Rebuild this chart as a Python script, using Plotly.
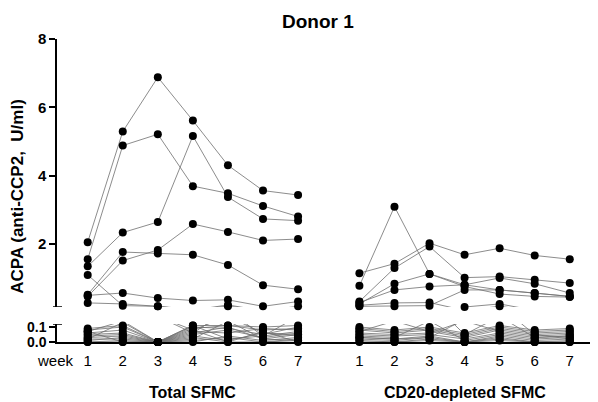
import plotly.graph_objects as go

# ---------------- data ----------------
weeks = [1, 2, 3, 4, 5, 6, 7]
week_labels = ["1", "2", "3", "4", "5", "6", "7"]
group_labels = ["Total SFMC", "CD20-depleted SFMC"]
chart_title = "Donor 1"
y_title = "ACPA (anti-CCP2,  U/ml)"

# Total SFMC, donors/wells with higher ACPA (U/ml), weeks 1-7
total_high = [
    [2.05, 5.29, 6.88, 5.61, 4.30, 3.56, 3.43],
    [1.55, 4.88, 5.21, 3.69, 3.48, 3.11, 2.80],
    [1.34, 2.33, 2.64, 5.16, 3.37, 2.73, 2.68],
    [0.51, 1.76, 1.72, 1.68, 1.38, 0.79, 0.67],
    [0.46, 1.51, 1.82, 2.58, 2.35, 2.10, 2.14],
    [1.09, 0.19, 0.17, 0.06, 0.21, 0.04, 0.17],
    [0.49, 0.56, 0.41, 0.34, 0.36, 0.17, 0.31],
    [0.27, 0.24, 0.17, 0.08, 0.17, 0.06, 0.05],
]
# Total SFMC, low values
total_low = [
    [0.09, 0.11, 0.00, 0.11, 0.11, 0.10, 0.11],
    [0.08, 0.10, 0.00, 0.10, 0.09, 0.05, 0.10],
    [0.07, 0.14, 0.00, 0.09, 0.11, 0.08, 0.09],
    [0.06, 0.08, 0.00, 0.07, 0.06, 0.09, 0.08],
    [0.05, 0.06, 0.00, 0.11, 0.02, 0.04, 0.07],
    [0.04, 0.05, 0.00, 0.05, 0.08, 0.03, 0.06],
    [0.03, 0.04, 0.00, 0.02, 0.14, 0.02, 0.05],
    [0.02, 0.02, 0.00, 0.04, 0.01, 0.06, 0.04],
    [0.01, 0.03, 0.00, 0.00, 0.04, 0.01, 0.03],
    [0.00, 0.01, 0.00, 0.08, 0.00, 0.00, 0.02],
    [0.00, 0.00, 0.00, 0.01, 0.03, 0.00, 0.01],
    [0.07, 0.00, 0.00, 0.03, 0.00, 0.07, 0.00],
    [0.02, 0.13, 0.00, 0.06, 0.10, 0.02, 0.01],
]
# CD20-depleted SFMC, higher values
cd20_high = [
    [1.14, 1.42, 2.02, 1.68, 1.87, 1.66, 1.55],
    [0.77, 3.09, 1.12, 0.80, 0.65, 0.56, 0.46],
    [0.31, 1.29, 1.92, 1.01, 1.04, 0.95, 0.85],
    [0.24, 0.83, 1.12, 0.75, 0.53, 0.46, 0.44],
    [0.28, 0.65, 0.75, 0.80, 1.00, 0.83, 0.56],
    [0.17, 0.17, 0.19, 0.65, 0.65, 0.56, 0.46],
    [0.20, 0.27, 0.28, 0.05, 0.17, 0.03, 0.04],
    [0.03, 0.02, 0.03, 0.15, 0.24, 0.05, 0.02],
]
# CD20-depleted SFMC, low values
cd20_low = [
    [0.10, 0.08, 0.10, 0.06, 0.11, 0.08, 0.09],
    [0.09, 0.07, 0.09, 0.05, 0.10, 0.07, 0.08],
    [0.08, 0.06, 0.08, 0.04, 0.09, 0.06, 0.07],
    [0.07, 0.14, 0.07, 0.03, 0.08, 0.05, 0.06],
    [0.06, 0.05, 0.06, 0.14, 0.07, 0.04, 0.05],
    [0.05, 0.04, 0.05, 0.02, 0.06, 0.03, 0.04],
    [0.04, 0.03, 0.14, 0.01, 0.05, 0.02, 0.03],
    [0.03, 0.02, 0.04, 0.00, 0.04, 0.01, 0.02],
    [0.02, 0.01, 0.03, 0.00, 0.03, 0.00, 0.01],
    [0.01, 0.00, 0.02, 0.00, 0.02, 0.00, 0.00],
    [0.00, 0.00, 0.01, 0.00, 0.01, 0.00, 0.00],
]

# ---------------- layout constants ----------------
GROUP_GAP = 7.75          # x offset of the second group on the category axis
LOW_RANGE = [0, 0.12]     # lower (broken) segment
HIGH_RANGE = [0.15, 8]    # upper segment
FONT = "Arial, Liberation Sans, sans-serif"
LINE_COLOR = "#6e6e6e"
PAGE_PAD = 8              # default body margin of the html page

groups = [(total_high + total_low, 0.0), (cd20_high + cd20_low, GROUP_GAP)]


def build(series_list, offset, keep=None):
    xs, ys = [], []
    for s in series_list:
        for w, v in zip(weeks, s):
            xs.append(w + offset)
            ys.append(v if (keep is None or keep(v)) else None)
        xs.append(None)
        ys.append(None)
    return xs, ys


fig = go.Figure()

# lines (clipped by each axis segment)
for series_list, off in groups:
    xs, ys = build(series_list, off)
    for ax in ["y", "y2"]:
        fig.add_trace(go.Scatter(x=xs, y=ys, yaxis=ax, mode="lines",
                                 line=dict(color=LINE_COLOR, width=0.8),
                                 hoverinfo="skip", showlegend=False,
                                 connectgaps=False))

# markers (only those inside each segment)
for series_list, off in groups:
    xl, yl = build(series_list, off, keep=lambda v: v <= LOW_RANGE[1])
    xh, yh = build(series_list, off, keep=lambda v: v >= HIGH_RANGE[0] - 1e-9)
    fig.add_trace(go.Scatter(x=xl, y=yl, yaxis="y", mode="markers",
                             marker=dict(color="black", size=8),
                             cliponaxis=False, showlegend=False))
    fig.add_trace(go.Scatter(x=xh, y=yh, yaxis="y2", mode="markers",
                             marker=dict(color="black", size=8),
                             cliponaxis=False, showlegend=False))

tickvals = [w for w in weeks] + [w + GROUP_GAP for w in weeks]
ticktext = week_labels + week_labels

plot_h = 303
low_top = 18 / plot_h
high_bottom = 35 / plot_h

fig.update_layout(
    width=598 - PAGE_PAD, height=402 - PAGE_PAD,
    margin=dict(l=57 - PAGE_PAD, r=3, t=39 - PAGE_PAD, b=60,
                autoexpand=False),
    paper_bgcolor="white", plot_bgcolor="white",
    showlegend=False,
    font=dict(family=FONT, color="black"),
    xaxis=dict(range=[0.124, 15.47], tickvals=tickvals, ticktext=ticktext,
               showline=True, linecolor="black", linewidth=2, ticks="",
               showgrid=False, zeroline=False, anchor="y",
               tickfont=dict(family=FONT, size=15, color="black"),
               ticklabelstandoff=4),
    yaxis=dict(domain=[0, low_top], range=LOW_RANGE, tickvals=[0, 0.1],
               ticktext=["0.0", "0.1"], showline=True, linecolor="black",
               linewidth=1.5, ticks="outside", ticklen=6, tickwidth=1.5,
               tickcolor="black", showgrid=False, zeroline=False, anchor="x",
               tickfont=dict(family=FONT, size=14, color="black", weight="bold")),
    yaxis2=dict(domain=[high_bottom, 1], range=HIGH_RANGE, tickvals=[2, 4, 6, 8],
                showline=True, linecolor="black", linewidth=1.5,
                ticks="outside", ticklen=6, tickwidth=1.5, tickcolor="black",
                showgrid=False, zeroline=False, anchor="x",
                tickfont=dict(family=FONT, size=15, color="black", weight="bold")),
)

# end caps of broken axis
cap = dict(type="line", xref="paper", x0=-4 / 538, x1=5 / 538,
           line=dict(color="black", width=1.5))
fig.add_shape(**cap, yref="y2", y0=HIGH_RANGE[0], y1=HIGH_RANGE[0])
fig.add_shape(**cap, yref="y", y0=LOW_RANGE[1], y1=LOW_RANGE[1])

# texts
fig.add_annotation(text=chart_title, xref="paper", yref="paper", x=0.485, y=1.059,
                   showarrow=False, font=dict(family=FONT, size=19, weight="bold"),
                   xanchor="center", yanchor="middle")
fig.add_annotation(text=y_title, xref="paper", yref="paper", x=-0.074, y=0.48,
                   textangle=-90, showarrow=False,
                   font=dict(family=FONT, size=17, weight="bold"),
                   xanchor="center", yanchor="middle")
fig.add_annotation(text="week", xref="paper", yref="paper", x=-0.003, y=-0.061,
                   showarrow=False, font=dict(family=FONT, size=15),
                   xanchor="center", yanchor="middle")
for lbl, off in zip(group_labels, [0.0, GROUP_GAP]):
    fig.add_annotation(text=lbl, xref="x", yref="paper", x=4 + off, y=-0.168,
                       showarrow=False, font=dict(family=FONT, size=16, weight="bold"),
                       xanchor="center", yanchor="middle")

fig.write_html("out.html")
